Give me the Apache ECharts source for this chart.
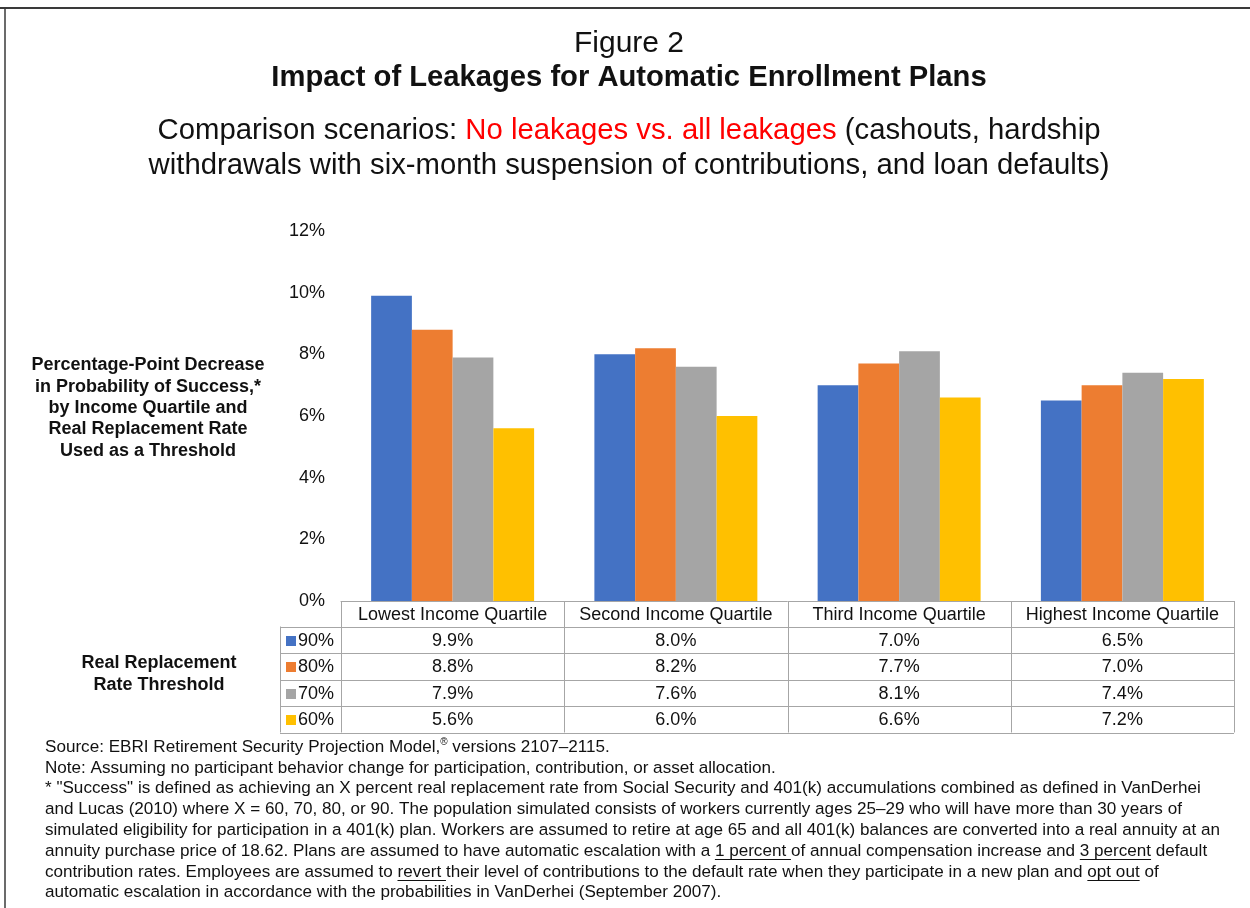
<!DOCTYPE html>
<html>
<head>
<meta charset="utf-8">
<script src="https://cdn.jsdelivr.net/npm/echarts@6/dist/echarts.min.js"></script>
<style>
  html, body { margin: 0; padding: 0; background: #fff; }
  #chart { width: 1250px; height: 908px; }
</style>
</head>
<body>
<div id="chart"></div>
<script>
// ---- data ----
const categories = ['Lowest Income Quartile', 'Second Income Quartile', 'Third Income Quartile', 'Highest Income Quartile'];
const thresholds = ['90%', '80%', '70%', '60%'];
const rate90 = [9.9, 8.0, 7.0, 6.5];
const rate80 = [8.8, 8.2, 7.7, 7.0];
const rate70 = [7.9, 7.6, 8.1, 7.4];
const rate60 = [5.6, 6.0, 6.6, 7.2];
const yTicks = [0, 2, 4, 6, 8, 10, 12];

const seriesValues = [rate90, rate80, rate70, rate60];
const colors = ['#4472C4', '#ED7D31', '#A5A5A5', '#FFC000'];

const FONT = 'Liberation Sans, Arial, Helvetica, sans-serif';
const TEXT = '#111';
const GRID_LINE = '#A6A6A6';

// footnote lines; segments flagged u are underlined, sup is superscript
const notes = [
  [{ t: 'Source: EBRI Retirement Security Projection Model,' }, { t: '®', sup: true }, { t: ' versions 2107–2115.' }],
  [{ t: 'Note: Assuming no participant behavior change for participation, contribution, or asset allocation.' }],
  [{ t: '* "Success" is defined as achieving an X percent real replacement rate from Social Security and 401(k) accumulations combined as defined in VanDerhei' }],
  [{ t: 'and Lucas (2010) where X = 60, 70, 80, or 90. The population simulated consists of workers currently ages 25–29 who will have more than 30 years of' }],
  [{ t: 'simulated eligibility for participation in a 401(k) plan. Workers are assumed to retire at age 65 and all 401(k) balances are converted into a real annuity at an' }],
  [{ t: 'annuity purchase price of 18.62. Plans are assumed to have automatic escalation with a ' }, { t: '1 percent ', u: true }, { t: 'of annual compensation increase and ' }, { t: '3 percent', u: true }, { t: ' default' }],
  [{ t: 'contribution rates. Employees are assumed to ' }, { t: 'revert ', u: true }, { t: 'their level of contributions to the default rate when they participate in a new plan and ' }, { t: 'opt out', u: true }, { t: ' of' }],
  [{ t: 'automatic escalation in accordance with the probabilities in VanDerhei (September 2007).' }]
];

const chart = echarts.init(document.getElementById('chart'), null, { renderer: 'canvas' });

const ctx = document.createElement('canvas').getContext('2d');
function textWidth(str, size, weight) {
  ctx.font = (weight || 'normal') + ' ' + size + 'px ' + FONT;
  return ctx.measureText(str).width;
}

function txt(x, y, text, opts) {
  opts = opts || {};
  return {
    type: 'text', x: x, y: y, silent: true,
    style: Object.assign({
      text: text, fill: TEXT, fontFamily: FONT, fontSize: 18,
      align: 'center', verticalAlign: 'middle'
    }, opts)
  };
}
function line(x1, y1, x2, y2, color, w) {
  return {
    type: 'line', silent: true,
    shape: { x1: x1, y1: y1, x2: x2, y2: y2 },
    style: { stroke: color || GRID_LINE, lineWidth: w || 1 }
  };
}

const SUB = { fontFamily: FONT, fontSize: 29.3, fontWeight: 'normal', color: TEXT, lineHeight: 34 };
const TITLE_X = 629;

const baseOption = {
  animation: false,
  backgroundColor: '#fff',
  textStyle: { fontFamily: FONT },
  title: [
    { text: 'Figure 2', left: TITLE_X, textAlign: 'center', top: 27, padding: 0,
      textStyle: { fontFamily: FONT, fontSize: 30, fontWeight: 'normal', color: TEXT, lineHeight: 34 } },
    { text: 'Impact of Leakages for Automatic Enrollment Plans', left: TITLE_X, textAlign: 'center', top: 61, padding: 0,
      textStyle: { fontFamily: FONT, fontSize: 29.2, fontWeight: 'bold', color: TEXT, lineHeight: 34 } },
    { text: '{a|Comparison scenarios: }{r|No leakages vs. all leakages}{a| (cashouts, hardship}', left: TITLE_X, textAlign: 'center', top: 114, padding: 0,
      textStyle: Object.assign({}, SUB, {
        rich: { a: Object.assign({}, SUB), r: Object.assign({}, SUB, { color: '#FF0000' }) } }) },
    { text: 'withdrawals with six-month suspension of contributions, and loan defaults)', left: TITLE_X, textAlign: 'center', top: 149, padding: 0,
      textStyle: SUB }
  ],
  grid: { left: 341, right: 16, top: 231, bottom: 307, containLabel: false },
  xAxis: {
    type: 'category', data: categories,
    axisLine: { show: true, lineStyle: { color: GRID_LINE, width: 1 } },
    axisTick: { show: false }, axisLabel: { show: false }
  },
  yAxis: {
    type: 'value', min: yTicks[0], max: yTicks[yTicks.length - 1], interval: 2,
    axisLine: { show: false }, axisTick: { show: false }, splitLine: { show: false },
    axisLabel: { fontFamily: FONT, fontSize: 18, color: TEXT, margin: 16, formatter: v => v + '%' }
  },
  series: seriesValues.map((vals, i) => ({
    name: thresholds[i], type: 'bar', data: vals,
    barGap: '0%', barCategoryGap: '27%',
    itemStyle: { color: colors[i] }
  }))
};

chart.setOption(baseOption);

// ---- data table, axis title and notes ----
const g = [];

// outer frame
g.push(line(0, 8, 1250, 8, '#3a3a3a', 2));
g.push(line(5, 8, 5, 908, '#3a3a3a', 1.5));

// axis title
g.push(txt(148, 408, 'Percentage-Point Decrease\nin Probability of Success,*\nby Income Quartile and\nReal Replacement Rate\nUsed as a Threshold',
  { fontWeight: 'bold', fontSize: 18, lineHeight: 21.3 }));
g.push(txt(159, 674, 'Real Replacement\nRate Threshold', { fontWeight: 'bold', fontSize: 18, lineHeight: 22 }));

const c0 = chart.convertToPixel({ xAxisIndex: 0 }, 0);
const c1 = chart.convertToPixel({ xAxisIndex: 0 }, 1);
const band = c1 - c0;
const tableTop = chart.convertToPixel({ yAxisIndex: 0 }, 0);
const headerH = 25.5, rowH = 26.5;
const legendLeft = 280;
const colLeft = c0 - band / 2;
const colRight = colLeft + band * categories.length;
const tableBottom = tableTop + headerH + rowH * thresholds.length;

// horizontal rules
for (let r = 0; r <= thresholds.length; r++) {
  const y = Math.round(tableTop + headerH + rowH * r) + 0.5;
  g.push(line(legendLeft, y, colRight, y));
}
// vertical rules
g.push(line(legendLeft + 0.5, tableTop + headerH, legendLeft + 0.5, tableBottom));
for (let c = 0; c <= categories.length; c++) {
  const x = Math.round(colLeft + band * c) + 0.5;
  g.push(line(x, tableTop, x, tableBottom));
}
// header labels
categories.forEach((cat, c) => {
  g.push(txt(colLeft + band * (c + 0.5), tableTop + headerH / 2 + 1, cat));
});
// rows
thresholds.forEach((name, r) => {
  const cy = tableTop + headerH + rowH * (r + 0.5) + 1;
  g.push({ type: 'rect', silent: true, shape: { x: 286, y: Math.round(cy - 5), width: 10, height: 10 }, style: { fill: colors[r] } });
  g.push(txt(298, cy, name, { align: 'left' }));
  seriesValues[r].forEach((v, c) => {
    g.push(txt(colLeft + band * (c + 0.5), cy, v.toFixed(1) + '%'));
  });
});

// notes
const noteSize = 17.1, noteLeft = 45, noteTop = 747, noteStep = 20.8;
notes.forEach((segs, i) => {
  const cy = noteTop + noteStep * i;
  let x = noteLeft;
  segs.forEach(s => {
    const size = s.sup ? 10 : noteSize;
    const w = textWidth(s.t, size);
    g.push(txt(x, s.sup ? cy - 5 : cy, s.t, { align: 'left', fontSize: size }));
    if (s.u) {
      const uy = Math.round(cy + 8) + 0.5;
      g.push(line(x, uy, x + w, uy, '#111', 1));
    }
    x += w;
  });
});

chart.setOption({ graphic: { elements: g } });
</script>
</body>
</html>
